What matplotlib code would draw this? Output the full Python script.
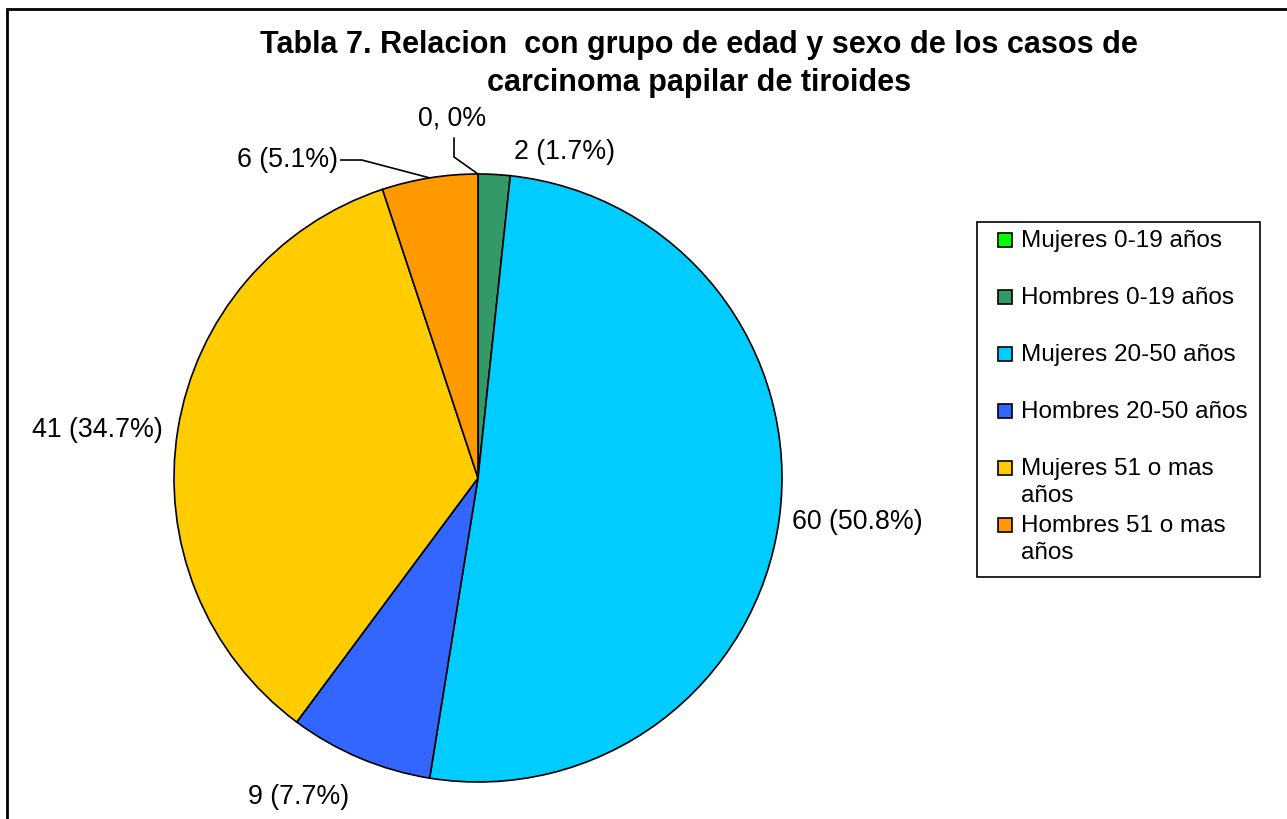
import matplotlib
matplotlib.use("Agg")
import matplotlib.pyplot as plt
from matplotlib.patches import Rectangle
import numpy as np

plt.rcParams['font.family'] = ['Liberation Sans', 'DejaVu Sans']

# data
categories = ["Mujeres 0-19 años", "Hombres 0-19 años", "Mujeres 20-50 años",
              "Hombres 20-50 años", "Mujeres 51 o mas\naños", "Hombres 51 o mas\naños"]
casos = [0, 2, 60, 9, 41, 6]
etiquetas = ["0, 0%", "2 (1.7%)", "60 (50.8%)", "9 (7.7%)", "41 (34.7%)", "6 (5.1%)"]
colores = ["#00FF00", "#339966", "#00CCFF", "#3366FF", "#FFCC00", "#FF9900"]

W, H = 1287, 819
cx, cy, R = 478, 478, 304   # pie centre / radius in pixels

fig = plt.figure(figsize=(W / 100, H / 100), dpi=100)
ax = fig.add_axes([0, 0, 1, 1])
wedges, _ = ax.pie(casos, colors=colores, startangle=90, counterclock=False,
                   wedgeprops=dict(edgecolor="black", linewidth=1.2))
ax.set_aspect("auto")
ax.set_xlim(-cx / R, (W - cx) / R)
ax.set_ylim(-(H - cy) / R, cy / R)
ax.axis("off")

# label positions (in pie radii)
label_pos = [(-0.086, 1.184), (0.286, 1.072), (1.247, -0.145),
             (-0.589, -1.049), (-1.253, 0.158), (-0.628, 1.046)]
for i, txt in enumerate(etiquetas):
    ax.text(label_pos[i][0], label_pos[i][1], txt, fontsize=19.3,
            ha="center", va="center")

# leader lines for the small slices
def borde(w):
    ang = np.deg2rad((w.theta1 + w.theta2) / 2)
    return np.cos(ang), np.sin(ang)

ex, ey = borde(wedges[5])
ax.plot([-0.451, -0.382, ex], [1.046, 1.046, ey], color="black", lw=1.2)
ex, ey = borde(wedges[0])
ax.plot([-0.079, -0.079, ex], [1.118, 1.056, ey], color="black", lw=1.2)

# title
fig.text(699 / W, 1 - 64 / H,
         "Tabla 7. Relacion  con grupo de edad y sexo de los casos de\ncarcinoma papilar de tiroides",
         fontsize=22, fontweight="bold", ha="center", va="center", linespacing=1.36)

# legend (drawn by hand to keep Excel's fixed row pitch)
def px(x, y):
    return x / W, 1 - y / H

fig.add_artist(Rectangle(px(977, 577), 283 / W, 355 / H, transform=fig.transFigure,
                         facecolor="white", edgecolor="black", lw=1.2))
for i, lab in enumerate(categories):
    yc = 240 + 57 * i
    fig.add_artist(Rectangle(px(998, yc + 7), 14 / W, 14 / H, transform=fig.transFigure,
                             facecolor=colores[i], edgecolor="black", lw=1.2))
    fig.text(*px(1021, yc - 10), lab, fontsize=17.5, ha="left", va="top",
             linespacing=1.32)

# outer frame (cut off at right/bottom as in the reference)
fig.add_artist(Rectangle(px(7, H + 20), (W + 20) / W, (H + 11) / H,
                         transform=fig.transFigure, facecolor="none",
                         edgecolor="black", lw=2, clip_on=False))

fig.savefig("out.png", dpi=100)
